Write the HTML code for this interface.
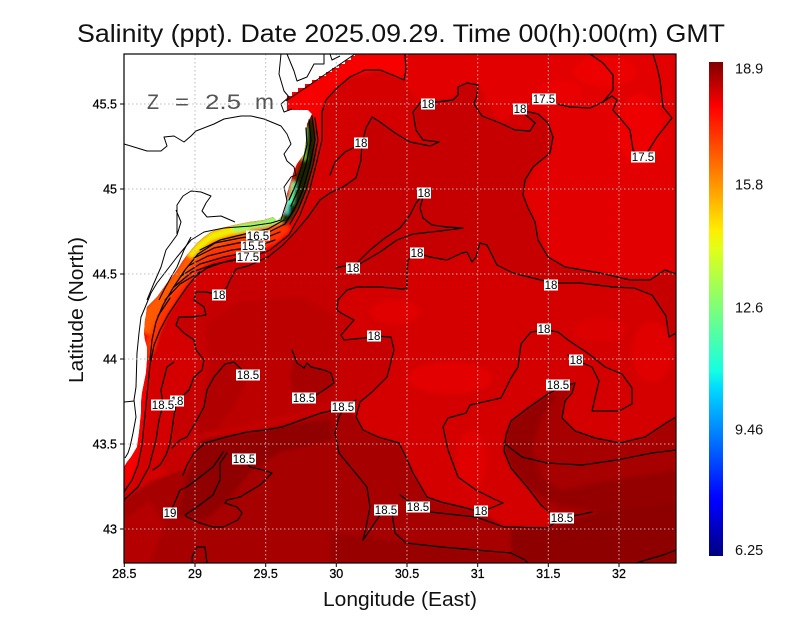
<!DOCTYPE html>
<html><head><meta charset="utf-8"><style>
html,body{margin:0;padding:0;background:#fff;}
svg{display:block;font-family:"Liberation Sans",sans-serif;}
.c{fill:none;stroke:#000;stroke-width:1.2;stroke-linejoin:round;stroke-linecap:round;}
.l{fill:none;stroke:#000;stroke-width:1;stroke-linejoin:round;}
.g{stroke:#bdbdbd;stroke-width:1;stroke-dasharray:1.5 2.5;}
.lb rect{fill:#fff;}
.lb text{font-size:11.5px;fill:#000;text-anchor:middle;}
.tk{font-size:12.5px;fill:#000;stroke:#000;stroke-width:0.25;}
</style></head><body>
<svg width="800" height="618" viewBox="0 0 800 618" xmlns="http://www.w3.org/2000/svg">
<defs>
<clipPath id="sea"><polygon points="355,54 676,54 676,563 124,563 124,467 127,462 131,457 134,452 137,447 138,440 139,433 140,423 141,413 141,403 142,393 144,383 146,373 147,360 147,347 145,340 144,333 145,320 146,315 147,307 152,302 157,297 162,290 167,283 172,277 177,270 182,262 187,255 192,249 197,243 204,237 211,232 222,228 234,225 249,222 264,220 273,217 277,221 284,214 286,204 287,194 289,187 291,181 294,171 297,164 304,154 306,141 307,124 312,114 308,110 287,110 287,96 292,96 292,92 298,92 298,88 305,88 305,84 312,84 312,80 319,80 319,76 326,76 326,72 332,72 332,68 339,68 339,64 345,64 345,60 351,60 351,56 355,56"/></clipPath>
<clipPath id="plot"><rect x="124" y="54" width="552" height="509"/></clipPath>
<filter id="bl" filterUnits="userSpaceOnUse" x="0" y="0" width="800" height="618"><feGaussianBlur stdDeviation="1.6"/></filter>
<linearGradient id="jet" x1="0" y1="1" x2="0" y2="0">
<stop offset="0" stop-color="#000080"/>
<stop offset="0.11" stop-color="#0000ff"/>
<stop offset="0.125" stop-color="#0008ff"/>
<stop offset="0.34" stop-color="#00dbff"/>
<stop offset="0.375" stop-color="#14ffe2"/>
<stop offset="0.5" stop-color="#7bff7b"/>
<stop offset="0.625" stop-color="#e3ff14"/>
<stop offset="0.66" stop-color="#ffed00"/>
<stop offset="0.75" stop-color="#ff9700"/>
<stop offset="0.89" stop-color="#ff1200"/>
<stop offset="0.91" stop-color="#ff0000"/>
<stop offset="1" stop-color="#800000"/>
</linearGradient>
</defs>

<!-- field -->
<g clip-path="url(#sea)">
<rect x="124" y="54" width="552" height="509" fill="#d40000"/>
<g filter="url(#bl)">
<polygon fill="#e20000" points="406,54 676,54 676,274 650,280 600,273 565,267 548,257 535,222 523,195 533,167 553,137 538,114 520,110 500,123 478,85 467,83 458,87 458,95 420,103 406,85"/>
<ellipse cx="640" cy="130" rx="22" ry="36" fill="#ee0000"/>
<ellipse cx="605" cy="72" rx="32" ry="15" fill="#ec0000"/>
<ellipse cx="560" cy="90" rx="22" ry="10" fill="#ea0000"/>
<polygon fill="#f60000" points="124,300 290,54 405,54 406,70 404,80 380,70 350,77 337,88 326,100 322,112 322,140 316,165 309,192 300,215 289,235 270,250 255,256 240,258 224,262 207,268 196,276 187,287 178,300 168,315 160,330 154,345 150,365 148,385 146,405 144,425 142,445 138,465 132,480 124,492"/>
<polygon fill="#c60000" points="320,200 335,188 356,178 361,160 362,143 366,128 372,117 380,122 395,133 410,142 430,146 439,142 423,140 416,130 413,112 420,103 437,102 453,100 458,95 458,87 467,83 478,85 477,95 474,104 482,116 500,123 515,130 530,131 535,123 527,116 520,110 538,114 548,123 553,137 550,153 533,167 525,180 523,195 528,208 535,222 538,240 548,257 565,267 600,273 630,280 650,280 665,270 676,275 676,333 669,337 666,316 652,295 634,288 613,287 580,283 553,283 513,273 497,265 492,255 487,245 480,243 476,257 472,262 467,252 462,253 447,260 430,257 417,253 408,260 407,273 407,288 403,289 380,287 357,287 347,290 338,300 337,310 341,313 354,320 341,335 344,340 364,338 374,336 391,337 394,350 387,377 372,392 360,402 344,407 307,418 265,430 226,437 205,443 194,453 187,470 170,475 160,465 170,443 177,401 189,390 194,377 202,370 204,360 196,350 194,340 184,333 176,325 179,317 191,317 206,315 204,307 194,300 196,292 220,295 227,287 234,270 248,265 268,257 283,245 297,230 308,217"/>
<polygon fill="#bc0000" points="205,325 240,302 300,296 335,315 340,360 335,400 300,412 260,422 215,432 205,400 210,365"/>
<polygon fill="#a60000" points="294,353 297,363 304,368 307,363 311,367 324,370 331,373 334,383 324,390 316,395 304,398 295,400 290,380"/>
<polygon fill="#b00000" points="204,407 207,390 214,377 225,364 234,362 242,370 245,385 232,410 215,430 197,436 197,420"/>
<ellipse cx="450" cy="378" rx="42" ry="16" fill="#e20000"/>
<ellipse cx="395" cy="312" rx="25" ry="12" fill="#e00000"/>
<ellipse cx="472" cy="460" rx="15" ry="30" fill="#e00000"/>
<ellipse cx="652" cy="352" rx="20" ry="30" fill="#e00000"/>
<ellipse cx="600" cy="330" rx="26" ry="12" fill="#dc0000"/>
<polygon fill="#a60000" points="124,500 150,482 175,472 187,470 194,453 205,443 226,437 265,430 307,418 344,407 356,417 363,430 378,437 399,443 406,457 413,473 427,497 441,502 462,507 481,512 504,527 547,528 562,518 541,505 528,488 511,468 504,451 506,435 511,421 528,408 548,394 561,387 575,383 565,401 562,418 575,431 595,438 620,443 645,437 666,423 676,417 676,563 124,563"/>
<polygon fill="#8e0000" points="511,527 547,528 600,512 676,500 676,563 511,563"/>
<polygon fill="#940000" points="506,435 511,421 528,408 548,394 556,397 540,420 532,450 542,478 562,490 600,482 676,470 676,502 600,512 560,506 528,488 511,468 504,451"/>
<polygon fill="#980000" points="330,532 406,543 476,550 525,560 525,563 330,563"/>
<polygon fill="#900000" points="200,440 290,425 330,420 332,440 280,452 250,472 228,500 205,520 178,515 186,480"/>
<polygon fill="#b40000" points="124,520 150,500 165,525 150,563 124,563"/>
<polygon fill="#ff5a00" points="138,330 147,307 157,297 167,283 177,270 187,255 197,243 211,232 234,225 264,220 281,213 285,222 272,232 250,238 228,242 210,250 196,262 184,278 172,293 162,308 155,322 150,335"/>
<polygon fill="#ff3000" points="146,340 150,335 155,322 162,308 172,293 184,278 196,262 210,250 228,242 250,238 272,232 285,222 290,230 275,243 255,250 232,254 212,260 198,270 187,284 177,300 167,316 160,332 155,350 148,360"/>
<polygon fill="#f2ee00" points="187,255 197,243 211,232 234,225 250,222 250,231 230,235 212,241 200,250 192,258"/>
<polygon fill="#90ff70" points="232,226 264,220 281,213 284,221 265,227 245,230 234,232"/>
<polygon fill="#1e2400" points="307,118 313,116 317,135 315,160 309,185 301,205 292,220 284,226 281,218 287,205 291,190 295,175 300,163 304,152 306,135"/>
<polygon fill="#80e040" points="304,128 307,128 306,160 302,160"/>
<polygon fill="#60ffa0" points="292,182 296,182 293,204 289,204"/>
<polygon fill="#40ffe0" points="287,198 290,198 288,214 285,214"/>
</g>
</g>

<!-- contours -->
<g clip-path="url(#plot)">
<path class="c" d="M405,54 L406,70 L404,80 L395,76 L380,70 L365,70 L350,77 L337,88 L326,100 L322,112 L322,140 L316,165 L309,192 L300,215 L289,235 L270,250 L255,256 L240,258 L224,262 L207,268 L196,276 L187,287 L178,300 L168,315 L160,330 L154,345 L150,365 L148,385 L146,405 L144,425 L142,445 L138,465 L132,480 L124,492"/>
<path class="c" d="M312,116 L315,140 L310,165 L303,190 L295,208 L285,224 L265,234 L240,238 L215,243 L198,254 L185,270 L173,288 L163,305 L156,322 L152,340 L150,360"/>
<path class="c" d="M309,120 L311,140 L306,165 L299,188 L291,206 M306,128 L307,145 L302,165 L296,184 L289,200 M315,118 L318,140 L313,165 L306,190 L298,210 L290,224"/>
<path class="c" d="M200,250 L220,240 L245,234 L268,229 L284,220 M194,258 L214,248 L238,243 L260,240 L280,232 M188,266 L208,256 L232,250 L255,247 L275,240 M181,276 L200,264 L224,257 L245,253 L265,248 M174,287 L192,272 L215,264 L236,260 M165,300 L180,284 L200,272 M158,316 L170,298"/>
<path class="c" d="M320,200 L308,217 L297,230 L283,245 L268,257 L248,266 L236,269 L230,280 L227,287 L220,295 L206,292 L196,292 L194,300 L204,307 L206,315 L191,317 L179,317 L176,325 L184,333 L194,340 L196,350 L204,360 L202,370 L194,377 L189,390 L177,401 L174,415 L172,430 L170,443 L166,455 L160,465 L153,470"/>
<path class="c" d="M330,175 L335,162 L345,152 L355,147 L362,143 L366,128 L372,117 L380,122 L395,133 L410,142 L430,146 L439,142 L423,140 L416,130 L413,112 L420,103 L437,102 L453,100 L458,95 L458,87 L467,83 L478,85 L477,95 L474,104 L482,116 L500,123 L515,130 L530,131 L535,123 L527,116 L520,110 L538,114 L548,123 L553,137 L550,153 L533,167 L525,180 L523,195 L528,208 L535,222 L538,240 L548,257 L565,267 L600,273 L630,280 L650,280 L665,270 L676,274"/>
<path class="c" d="M362,143 L361,160 L356,178 L343,187 L330,193 L320,200"/>
<path class="c" d="M676,333 L669,337 L666,316 L652,295 L634,288 L613,287 L580,283 L553,283 L513,273 L497,265 L492,255 L487,245 L480,243 L476,257 L472,262 L467,252 L462,253 L447,260 L430,257 L417,253 L408,260 L407,273 L407,288 L403,289 L380,287 L357,287 L347,290 L338,300 L337,310 L341,313 L354,320 L341,335 L344,340 L364,338 L374,336 L391,337 L394,350 L387,377 L372,392 L360,402 L356,417 L363,430 L378,437 L399,443 L406,457 L413,473 L427,497 L441,502 L462,507 L481,512 L503,503 L494,499 L476,490 L458,477 L448,450 L443,427 L448,418 L466,413 L470,405 L501,398 L511,378 L518,367 L521,344 L531,332 L546,330 L558,332 L568,340 L589,354 L605,367 L622,374 L632,388 L632,404 L619,411 L592,411 L595,398 L599,381 L592,367 L578,361 L568,355"/>
<path class="c" d="M336,268 L344,266 L354,267 L363,262 L380,252 L397,240 L413,234 L440,231 L463,228 L447,227 L432,225 L423,218 L420,208 L424,193 L416,203 L410,215 L400,228 L385,238 L370,250 L358,262"/>
<path class="c" d="M183,475 L187,465 L194,453 L205,443 L226,437 L247,432 L265,430 L282,427 L307,418 L321,413 L335,410 L344,407 L356,400"/>
<path class="c" d="M172,448 L180,440 L187,437 L197,420 L204,407 L207,390 L214,377 L225,364 L234,362 L242,370 L248,375"/>
<path class="c" d="M174,362 L167,367 L161,390 L163,405 L159,420 L156,440 L149,467 L138,487 L124,500"/>
<path class="c" d="M292,350 L297,363 L304,368 L307,363 L311,367 L324,370 L331,373 L334,383 L324,390 L316,395 L304,398 L295,402"/>
<path class="c" d="M227,453 L220,463 L220,480 L213,495 L197,507 L185,515 L187,517 L200,523 L213,527 L223,527 L238,520 L242,513 L237,507 L225,503 L227,500 L240,497 L260,485 L272,473 L263,470 L250,467 L245,460"/>
<path class="c" d="M170,513 L175,502 L180,490 L187,487 L200,477 L213,467 L220,457 L223,452"/>
<path class="c" d="M192,563 L192,557 L197,547 L205,547 L207,563"/>
<path class="c" d="M344,407 L339,417 L335,433 L339,453 L353,470 L367,487 L370,507 L366,527 L363,540 L370,530 L380,515 L385,510 L392,513 L395,533 L406,543 L441,547 L476,550 L511,553 L525,560 L528,563"/>
<path class="c" d="M400,495 L410,502 L418,507 L430,512 L476,517 L504,527 L547,528 L562,518 L578,515 L592,512"/>
<path class="c" d="M541,505 L528,488 L511,468 L504,451 L506,435 L511,421 L528,408 L548,394 L561,387 L575,383 L572,393 L565,401 L562,418 L575,431 L595,438 L620,443 L645,437 L666,423 L676,417 M541,505 L553,515 L562,518"/>
<path class="c" d="M504,443 L522,457 L547,463 L582,465 L617,460 L652,453 L676,450"/>
<path class="c" d="M636,563 L663,555 L676,550"/>
<path class="c" d="M590,54 L603,63 L613,75 L613,90 L603,102 L590,108 L570,107 L553,103 L544,99 L532,99"/>
<path class="c" d="M653,54 L657,67 L660,80 L663,107 L672,118 L657,137 L647,153 L643,157 M640,157 L633,150 L630,130 L620,118 L613,110 L617,100 L612,96 L603,102"/>
</g>

<!-- land outlines -->
<g clip-path="url(#plot)">
<path class="l" d="M124,144 L134,147 L147,151 L161,151 L167,146 L164,137 L174,136 L184,142 L191,136 L196,131 L214,124 L224,119 L241,116 L251,116 L264,119 L281,126 L287,134 L291,144 L284,154 L287,161 L294,167 L296,175 L291,177 L284,187 L287,201 L284,210 L281,220 L271,223 L251,226 L224,228 L204,232 L191,240 L177,257 L167,270 L157,283 L151,293 L144,310 L141,317 L139,333 L137,353 L136,387 L134,400 L136,417 L133,433 L130,447 L128,453 L125,458"/>
<path class="l" d="M124,402 L134,401"/>
<path class="l" d="M281,54 L279,74 L284,91 L289,97 L281,104 L284,112 L292,109"/>
<path class="l" d="M286,101 L355,54"/>
<path class="l" d="M287,54 L294,71 L297,81 L307,77 L314,64 L324,64 L324,54"/>
<path class="l" d="M330,54 L332,60 L340,56"/>
<path class="l" d="M177,234 L177,205 L183,196 L191,191 L201,192 L211,196 L206,203 L202,211 L207,217 L221,216 L235,222"/>
<path class="l" d="M176,210 L181,222 L177,235 L166,250 L161,267 L154,283 L147,300"/>
<path class="l" d="M191,237 L184,250 L177,267 L171,277 L164,290 L159,300"/>
</g>

<!-- grid -->
<g class="g">
<line x1="195" y1="54" x2="195" y2="563"/><line x1="265.7" y1="54" x2="265.7" y2="563"/><line x1="336.3" y1="54" x2="336.3" y2="563"/><line x1="407" y1="54" x2="407" y2="563"/><line x1="477.7" y1="54" x2="477.7" y2="563"/><line x1="548.3" y1="54" x2="548.3" y2="563"/><line x1="619" y1="54" x2="619" y2="563"/>
<line x1="124" y1="104" x2="676" y2="104"/><line x1="124" y1="189" x2="676" y2="189"/><line x1="124" y1="274" x2="676" y2="274"/><line x1="124" y1="359" x2="676" y2="359"/><line x1="124" y1="444" x2="676" y2="444"/><line x1="124" y1="529" x2="676" y2="529"/>
</g>

<!-- contour labels -->
<g class="lb">
<rect x="421" y="98.5" width="14" height="11"/><text x="428" y="108">18</text>
<rect x="354" y="137.5" width="14" height="11"/><text x="361" y="147">18</text>
<rect x="513" y="103.5" width="14" height="11"/><text x="520" y="113">18</text>
<rect x="532" y="93.5" width="24" height="11"/><text x="544" y="103">17.5</text>
<rect x="631" y="151.5" width="24" height="11"/><text x="643" y="161">17.5</text>
<rect x="417" y="187.5" width="14" height="11"/><text x="424" y="197">18</text>
<rect x="410" y="247.5" width="14" height="11"/><text x="417" y="257">18</text>
<rect x="346" y="262.5" width="14" height="11"/><text x="353" y="272">18</text>
<rect x="544" y="279.5" width="14" height="11"/><text x="551" y="289">18</text>
<rect x="246" y="230.5" width="24" height="10"/><text x="258" y="240">16.5</text>
<rect x="241" y="241" width="24" height="10"/><text x="253" y="250">15.5</text>
<rect x="236" y="251.5" width="24" height="11"/><text x="248" y="261">17.5</text>
<rect x="212" y="289.5" width="14" height="11"/><text x="219" y="299">18</text>
<rect x="367" y="330.5" width="14" height="11"/><text x="374" y="340">18</text>
<rect x="537" y="323.5" width="14" height="11"/><text x="544" y="333">18</text>
<rect x="569" y="354.5" width="14" height="11"/><text x="576" y="364">18</text>
<rect x="236" y="369.5" width="24" height="11"/><text x="248" y="379">18.5</text>
<rect x="546" y="379.5" width="24" height="11"/><text x="558" y="389">18.5</text>
<rect x="292" y="392.5" width="24" height="11"/><text x="304" y="402">18.5</text>
<rect x="331" y="401.5" width="24" height="11"/><text x="343" y="411">18.5</text>
<rect x="170" y="395.5" width="14" height="11"/><text x="177" y="405">18</text>
<rect x="151" y="399.5" width="24" height="11"/><text x="163" y="409">18.5</text>
<rect x="232" y="453.5" width="24" height="11"/><text x="244" y="463">18.5</text>
<rect x="163" y="507.5" width="14" height="11"/><text x="170" y="517">19</text>
<rect x="374" y="504.5" width="24" height="11"/><text x="386" y="514">18.5</text>
<rect x="406" y="501.5" width="24" height="11"/><text x="418" y="511">18.5</text>
<rect x="474" y="505.5" width="14" height="11"/><text x="481" y="515">18</text>
<rect x="550" y="512.5" width="24" height="11"/><text x="562" y="522">18.5</text>
</g>

<!-- Z label -->
<g font-size="21" fill="#555">
<text x="147" y="109" textLength="12" lengthAdjust="spacingAndGlyphs">Z</text>
<text x="175" y="109" textLength="14" lengthAdjust="spacingAndGlyphs">=</text>
<text x="205" y="109" textLength="36" lengthAdjust="spacingAndGlyphs">2.5</text>
<text x="255" y="109" textLength="19" lengthAdjust="spacingAndGlyphs">m</text>
</g>

<!-- frame & ticks -->
<rect x="124" y="54" width="552" height="509" fill="none" stroke="#000" stroke-width="1.2"/>
<g stroke="#000" stroke-width="1">
<line x1="124.3" y1="563" x2="124.3" y2="567"/><line x1="195" y1="563" x2="195" y2="567"/><line x1="265.7" y1="563" x2="265.7" y2="567"/><line x1="336.3" y1="563" x2="336.3" y2="567"/><line x1="407" y1="563" x2="407" y2="567"/><line x1="477.7" y1="563" x2="477.7" y2="567"/><line x1="548.3" y1="563" x2="548.3" y2="567"/><line x1="619" y1="563" x2="619" y2="567"/>
<line x1="120" y1="104" x2="124" y2="104"/><line x1="120" y1="189" x2="124" y2="189"/><line x1="120" y1="274" x2="124" y2="274"/><line x1="120" y1="359" x2="124" y2="359"/><line x1="120" y1="444" x2="124" y2="444"/><line x1="120" y1="529" x2="124" y2="529"/>
</g>

<!-- tick labels -->
<g class="tk" text-anchor="middle">
<text x="124.3" y="578">28.5</text><text x="195" y="578">29</text><text x="265.7" y="578">29.5</text><text x="336.3" y="578">30</text><text x="407" y="578">30.5</text><text x="477.7" y="578">31</text><text x="548.3" y="578">31.5</text><text x="619" y="578">32</text>
</g>
<g class="tk" text-anchor="end">
<text x="117" y="108.5">45.5</text><text x="117" y="193.5">45</text><text x="117" y="278.5">44.5</text><text x="117" y="363.5">44</text><text x="117" y="448.5">43.5</text><text x="117" y="533.5">43</text>
</g>

<!-- axis titles -->
<text x="323" y="606" font-size="20" fill="#111" textLength="154" lengthAdjust="spacingAndGlyphs">Longitude (East)</text>
<text transform="translate(83,310) rotate(-90)" x="0" y="0" font-size="20" fill="#111" text-anchor="middle" textLength="146" lengthAdjust="spacingAndGlyphs">Latitude (North)</text>

<!-- title -->
<text x="77" y="42" font-size="25" fill="#111" textLength="648" lengthAdjust="spacingAndGlyphs">Salinity (ppt). Date 2025.09.29. Time 00(h):00(m) GMT</text>

<!-- colorbar -->
<rect x="709" y="62" width="14" height="494" fill="url(#jet)"/>
<g font-size="14.5" fill="#111">
<text x="735" y="73.5">18.9</text>
<text x="735" y="189.5">15.8</text>
<text x="735" y="312.5">12.6</text>
<text x="735" y="434.5">9.46</text>
<text x="735" y="555">6.25</text>
</g>
</svg>
</body></html>
